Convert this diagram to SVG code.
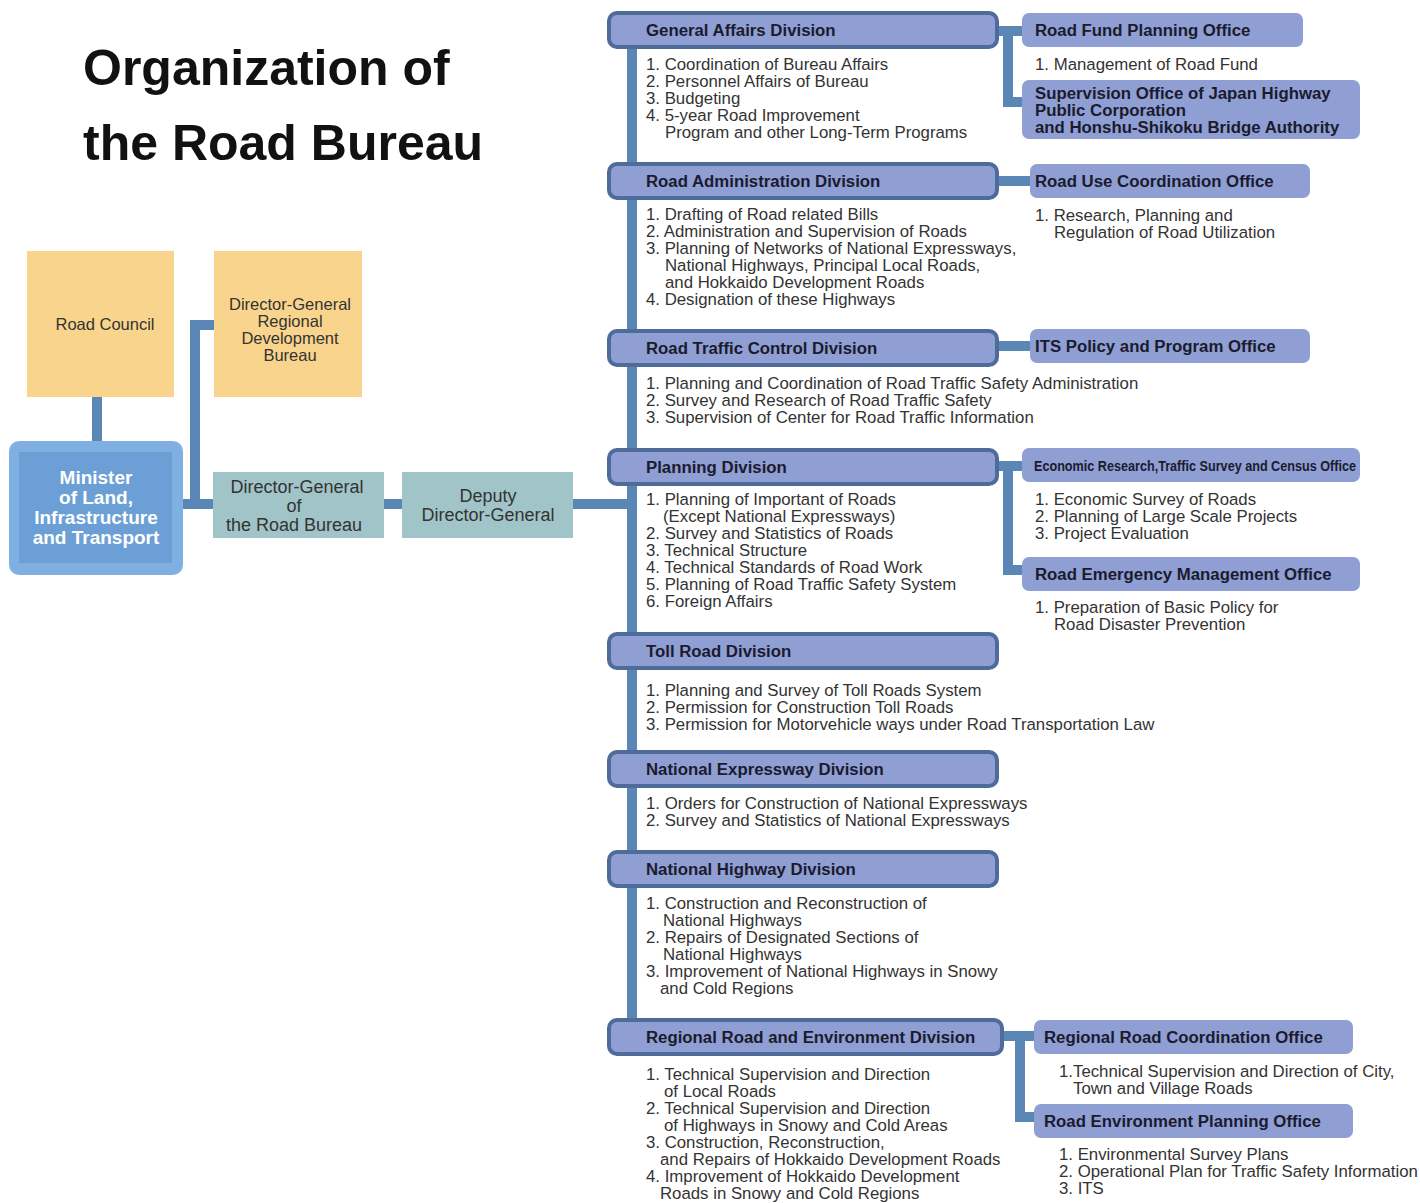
<svg xmlns="http://www.w3.org/2000/svg" width="1420" height="1203" viewBox="0 0 1420 1203">
<style>
.bg{fill:#ffffff}
.title{font-family:"Liberation Sans",Arial,sans-serif;font-weight:bold;font-size:50px;fill:#111}
.div rect{fill:#8f9ed3;stroke:#4e6b99;stroke-width:4}
.div text,.off text{font-family:"Liberation Sans",Arial,sans-serif;font-weight:bold;font-size:16.8px;fill:#1b1b2e}
.off rect{fill:#8f9ed3}
.body{font-family:"Liberation Sans",Arial,sans-serif;font-size:16.8px;fill:#333}
.conn line,.conn path{stroke:#5b87b7;stroke-width:10;fill:none}
.orange{fill:#f9d48c}
.teal{fill:#a0c4c7}
.lbl{font-family:"Liberation Sans",Arial,sans-serif;font-size:16.5px;fill:#333;text-anchor:middle}
.lbl2{font-family:"Liberation Sans",Arial,sans-serif;font-size:18px;fill:#333;text-anchor:middle}
.min{font-family:"Liberation Sans",Arial,sans-serif;font-weight:bold;font-size:19px;fill:#fff;text-anchor:middle}
</style>
<rect class="bg" x="0" y="0" width="1420" height="1203"/>
<g id="title">
<text class="title" x="83" y="85">Organization of</text>
<text class="title" x="83" y="160">the Road Bureau</text>
</g>
<g class="conn" id="connectors">
<line x1="97" y1="397" x2="97" y2="442"/>
<line x1="183" y1="504" x2="214" y2="504"/>
<path d="M195 504 V325 H215"/>
<line x1="384" y1="504" x2="402" y2="504"/>
<line x1="572" y1="504" x2="632" y2="504"/>
<line x1="632" y1="30" x2="632" y2="1037"/>
<path d="M998 31 H1023"/>
<path d="M1008 31 V102 H1023"/>
<line x1="998" y1="181" x2="1030" y2="181"/>
<line x1="998" y1="346" x2="1030" y2="346"/>
<path d="M998 466 H1023"/>
<path d="M1008 466 V570 H1023"/>
<path d="M1002 1036 H1035"/>
<path d="M1020 1036 V1117 H1035"/>
</g>
<g id="road-council">
<rect class="orange" x="27" y="251" width="147" height="146"/>
<text class="lbl" x="105" y="330">Road Council</text>
</g>
<g id="dg-regional">
<rect class="orange" x="214" y="251" width="148" height="146"/>
<text class="lbl" x="290" y="310">Director-General</text>
<text class="lbl" x="290" y="327">Regional</text>
<text class="lbl" x="290" y="344">Development</text>
<text class="lbl" x="290" y="361">Bureau</text>
</g>
<g id="minister">
<rect x="9" y="441" width="174" height="134" rx="10" fill="#80b0e2"/>
<rect x="19" y="452" width="153" height="111" fill="#6b9fd5"/>
<text class="min" x="96" y="484">Minister</text>
<text class="min" x="96" y="504">of Land,</text>
<text class="min" x="96" y="524">Infrastructure</text>
<text class="min" x="96" y="544">and Transport</text>
</g>
<g id="dg-road">
<rect class="teal" x="213" y="472" width="171" height="66"/>
<text class="lbl2" x="297" y="493">Director-General</text>
<text class="lbl2" x="294" y="512">of</text>
<text class="lbl2" x="294" y="531">the Road Bureau</text>
</g>
<g id="deputy">
<rect class="teal" x="402" y="472" width="171" height="66"/>
<text class="lbl2" x="488" y="502">Deputy</text>
<text class="lbl2" x="488" y="521">Director-General</text>
</g>

<g class="div" id="general-affairs">
<rect x="609" y="13" width="388" height="34" rx="8"/>
<text x="646" y="36">General Affairs Division</text>
</g>
<g id="general-affairs-tasks" class="body">
<text x="646" y="70">1. Coordination of Bureau Affairs</text>
<text x="646" y="87">2. Personnel Affairs of Bureau</text>
<text x="646" y="104">3. Budgeting</text>
<text x="646" y="121">4. 5-year Road Improvement</text>
<text x="665" y="138">Program and other Long-Term Programs</text>
</g>
<g class="off" id="road-fund">
<rect x="1022" y="13" width="281" height="34" rx="7"/>
<text x="1035" y="36">Road Fund Planning Office</text>
</g>
<text class="body" x="1035" y="70">1. Management of Road Fund</text>
<g class="off" id="supervision-office">
<rect x="1022" y="80" width="338" height="59" rx="7"/>
<text x="1035" y="99">Supervision Office of Japan Highway</text>
<text x="1035" y="116">Public Corporation</text>
<text x="1035" y="133">and Honshu-Shikoku Bridge Authority</text>
</g>

<g class="div" id="road-administration">
<rect x="609" y="164" width="388" height="34" rx="8"/>
<text x="646" y="187">Road Administration Division</text>
</g>
<g class="body">
<text x="646" y="220">1. Drafting of Road related Bills</text>
<text x="646" y="237">2. Administration and Supervision of Roads</text>
<text x="646" y="254">3. Planning of Networks of National Expressways,</text>
<text x="665" y="271">National Highways, Principal Local Roads,</text>
<text x="665" y="288">and Hokkaido Development Roads</text>
<text x="646" y="305">4. Designation of these Highways</text>
</g>
<g class="off" id="road-use">
<rect x="1030" y="164" width="280" height="34" rx="7"/>
<text x="1035" y="187">Road Use Coordination Office</text>
</g>
<g class="body">
<text x="1035" y="221">1. Research, Planning and</text>
<text x="1054" y="238">Regulation of Road Utilization</text>
</g>

<g class="div" id="road-traffic">
<rect x="609" y="331" width="388" height="34" rx="8"/>
<text x="646" y="354">Road Traffic Control Division</text>
</g>
<g class="body">
<text x="646" y="389">1. Planning and Coordination of Road Traffic Safety Administration</text>
<text x="646" y="406">2. Survey and Research of Road Traffic Safety</text>
<text x="646" y="423">3. Supervision of Center for Road Traffic Information</text>
</g>
<g class="off" id="its-office">
<rect x="1030" y="329" width="280" height="34" rx="7"/>
<text x="1035" y="352">ITS Policy and Program Office</text>
</g>

<g class="div" id="planning">
<rect x="609" y="450" width="388" height="34" rx="8"/>
<text x="646" y="473">Planning Division</text>
</g>
<g class="body">
<text x="646" y="505">1. Planning of Important of Roads</text>
<text x="663" y="522">(Except National Expressways)</text>
<text x="646" y="539">2. Survey and Statistics of Roads</text>
<text x="646" y="556">3. Technical Structure</text>
<text x="646" y="573">4. Technical Standards of Road Work</text>
<text x="646" y="590">5. Planning of Road Traffic Safety System</text>
<text x="646" y="607">6. Foreign Affairs</text>
</g>
<g class="off" id="economic-office">
<rect x="1022" y="448" width="338" height="34" rx="7"/>
<text x="1034" y="471" textLength="322" lengthAdjust="spacingAndGlyphs" style="font-size:15px">Economic Research,Traffic Survey and Census Office</text>
</g>
<g class="body">
<text x="1035" y="505">1. Economic Survey of Roads</text>
<text x="1035" y="522">2. Planning of Large Scale Projects</text>
<text x="1035" y="539">3. Project Evaluation</text>
</g>
<g class="off" id="emergency-office">
<rect x="1022" y="557" width="338" height="34" rx="7"/>
<text x="1035" y="580">Road Emergency Management Office</text>
</g>
<g class="body">
<text x="1035" y="613">1. Preparation of Basic Policy for</text>
<text x="1054" y="630">Road Disaster Prevention</text>
</g>

<g class="div" id="toll-road">
<rect x="609" y="634" width="388" height="34" rx="8"/>
<text x="646" y="657">Toll Road Division</text>
</g>
<g class="body">
<text x="646" y="696">1. Planning and Survey of Toll Roads System</text>
<text x="646" y="713">2. Permission for Construction Toll Roads</text>
<text x="646" y="730">3. Permission for Motorvehicle ways under Road Transportation Law</text>
</g>

<g class="div" id="national-expressway">
<rect x="609" y="752" width="388" height="34" rx="8"/>
<text x="646" y="775">National Expressway Division</text>
</g>
<g class="body">
<text x="646" y="809">1. Orders for Construction of National Expressways</text>
<text x="646" y="826">2. Survey and Statistics of National Expressways</text>
</g>

<g class="div" id="national-highway">
<rect x="609" y="852" width="388" height="34" rx="8"/>
<text x="646" y="875">National Highway Division</text>
</g>
<g class="body">
<text x="646" y="909">1. Construction and Reconstruction of</text>
<text x="663" y="926">National Highways</text>
<text x="646" y="943">2. Repairs of Designated Sections of</text>
<text x="663" y="960">National Highways</text>
<text x="646" y="977">3. Improvement of National Highways in Snowy</text>
<text x="660" y="994">and Cold Regions</text>
</g>

<g class="div" id="regional-road">
<rect x="609" y="1020" width="393" height="34" rx="8"/>
<text x="646" y="1043">Regional Road and Environment Division</text>
</g>
<g class="body">
<text x="646" y="1080">1. Technical Supervision and Direction</text>
<text x="664" y="1097">of Local Roads</text>
<text x="646" y="1114">2. Technical Supervision and Direction</text>
<text x="664" y="1131">of Highways in Snowy and Cold Areas</text>
<text x="646" y="1148">3. Construction, Reconstruction,</text>
<text x="660" y="1165">and Repairs of Hokkaido Development Roads</text>
<text x="646" y="1182">4. Improvement of Hokkaido Development</text>
<text x="660" y="1199">Roads in Snowy and Cold Regions</text>
</g>
<g class="off" id="regional-coordination">
<rect x="1034" y="1020" width="319" height="34" rx="7"/>
<text x="1044" y="1043">Regional Road Coordination Office</text>
</g>
<g class="body">
<text x="1059" y="1077">1.Technical Supervision and Direction of City,</text>
<text x="1073" y="1094">Town and Village Roads</text>
</g>
<g class="off" id="road-environment">
<rect x="1034" y="1104" width="319" height="34" rx="7"/>
<text x="1044" y="1127">Road Environment Planning Office</text>
</g>
<g class="body">
<text x="1059" y="1160">1. Environmental Survey Plans</text>
<text x="1059" y="1177">2. Operational Plan for Traffic Safety Information</text>
<text x="1059" y="1194">3. ITS</text>
</g>
</svg>
